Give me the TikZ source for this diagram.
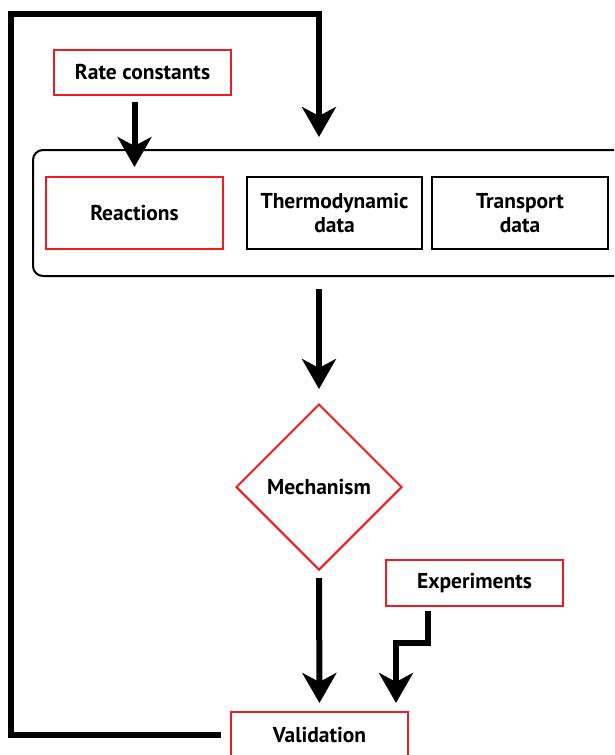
\documentclass[tikz,border=0pt]{standalone}
\usepackage{fontspec}
\setmainfont{PT Sans}
\usetikzlibrary{shapes.geometric,arrows.meta}
\definecolor{boxred}{RGB}{237,28,36}

\begin{document}
\begin{tikzpicture}[x=1pt,y=-1pt,
    box/.style={draw, line width=2pt, minimum width=177pt, minimum height=45pt,
        align=center, inner sep=0pt, font=\fontsize{21.5}{24}\selectfont\bfseries},
    redbox/.style={box, draw=boxred},
    arr/.style={line width=6pt, -{Stealth[length=30pt,width=34pt,inset=9pt]}}]
    \clip (0,0) rectangle (614,755);

    \node[redbox] (rate) at (142.5,72.5) {Rate constants};

    \node[draw, line width=2pt, rounded corners=10pt, minimum width=667pt,
        minimum height=126pt] (db) at (366.5,213) {};
    \node[redbox, minimum height=72pt] (react) at (134.5,213) {Reactions};
    \node[box, minimum width=175pt, minimum height=72pt] (thermo) at (334.5,213) {Thermodynamic\\data};
    \node[box, minimum width=176pt, minimum height=72pt] (transp) at (520,213) {Transport\\data};

    \node[diamond, draw=boxred, line width=2pt, minimum width=166pt, minimum height=166pt,
        inner sep=0pt, font=\fontsize{21.5}{24}\selectfont\bfseries] (mech) at (319,487) {Mechanism};

    \node[redbox, minimum height=46pt] (exper) at (474.5,583) {Experiments};
    \node[redbox, minimum height=46pt] (valid) at (319.5,735) {Validation};

    \coordinate (corner) at (11,14);

    \draw[arr, shorten <=6pt, shorten >=9pt] (rate.south -| react.north) -- (react.north);
    \draw[arr, shorten <=12pt, shorten >=14pt] (db.south -| mech.north) -- (mech.north);
    \draw[arr, shorten <=7pt, shorten >=8pt] (mech.south) -- (valid.north);
    \draw[arr, shorten <=4pt, shorten >=8pt] ([xshift=-46.5pt]exper.south) -- ++(0,36)
        -| ([xshift=76.5pt]valid.north);
    \draw[arr, shorten <=9pt, shorten >=12pt] (valid.west) -| (corner) -| (mech.north |- db.north);
\end{tikzpicture}
\end{document}
